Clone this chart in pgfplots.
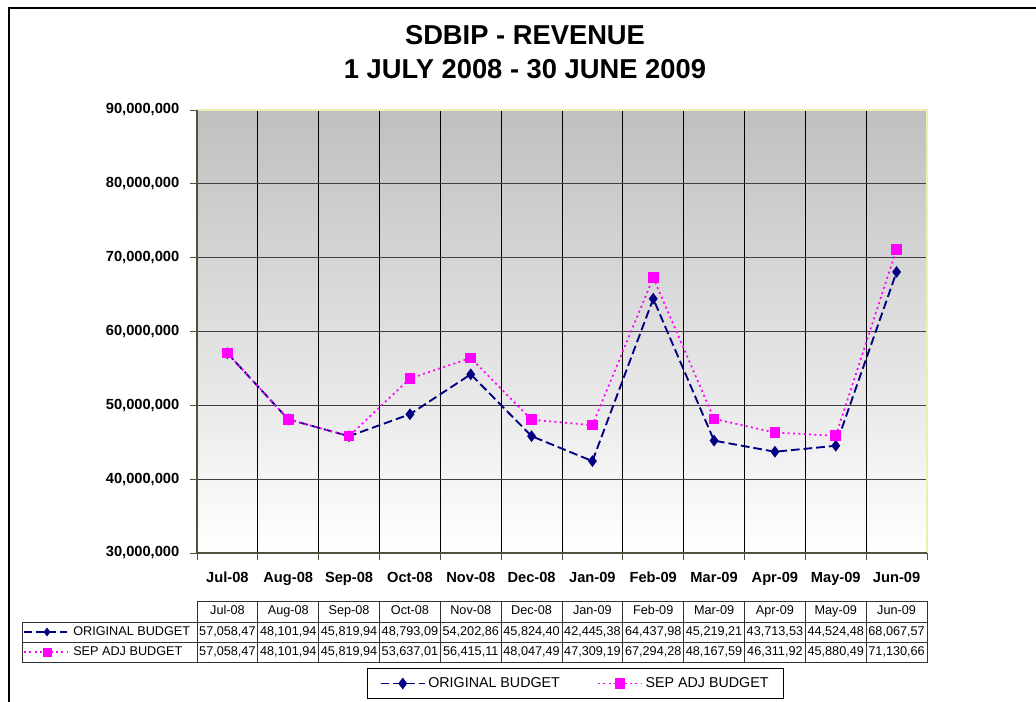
\documentclass[border=0pt]{standalone}
\usepackage{pgfplots}
\pgfplotsset{compat=1.18}
\usepackage{fontspec}
\setmainfont{Liberation Sans}
\definecolor{navyc}{HTML}{000080}
\definecolor{magc}{HTML}{FF00FF}
\definecolor{gridc}{HTML}{404040}
\definecolor{edgec}{HTML}{EEEEB0}
\definecolor{axc}{HTML}{50503C}
\begin{document}
\begin{tikzpicture}
\begin{scope}[x=0.75pt,y=-0.75pt]
\useasboundingbox (0,0) rectangle (1036,702);
\draw[line width=1.1pt] (9,702) -- (9,8) -- (1036,8);
\node[anchor=base, font=\bfseries\fontsize{20.5}{24}\selectfont] at (525,45) {SDBIP - REVENUE};
\node[anchor=base, font=\bfseries\fontsize{20.5}{24}\selectfont] at (525,79) {1 JULY 2008 - 30 JUNE 2009};
\end{scope}

\begin{axis}[
  at={(147.75pt,-414.75pt)}, anchor=south west,
  width=547.5pt, height=332.25pt, scale only axis,
  xmin=-0.5, xmax=11.5, ymin=30000000, ymax=90000000,
  xtick={0,...,11},
  xticklabels={Jul-08,Aug-08,Sep-08,Oct-08,Nov-08,Dec-08,Jan-09,Feb-09,Mar-09,Apr-09,May-09,Jun-09},
  minor xtick={-0.5,0.5,...,11.5},
  major x tick style={draw=none},
  ytick={30000000,40000000,50000000,60000000,70000000,80000000,90000000},
  yticklabels={{30,000,000},{40,000,000},{50,000,000},{60,000,000},{70,000,000},{80,000,000},{90,000,000}},
  scaled y ticks=false,
  xtick pos=left, ytick pos=left,
  tick align=outside,
  major tick length=5.25pt, minor tick length=5.25pt,
  tick style={axc, line width=0.75pt},
  ymajorgrids, xminorgrids,
  major grid style={gridc, line width=0.75pt},
  minor grid style={black, line width=0.75pt},
  axis line style={draw=none},
  axis background/.style={top color=black!25, bottom color=white},
  ticklabel style={font=\bfseries\fontsize{11}{13}\selectfont},
  xticklabel style={text height=8pt, text depth=2.5pt, yshift=-5.25pt},
  yticklabel style={xshift=-4.5pt},
  legend style={at={(0.5185,-0.2946)}, anchor=center, draw=black, line width=0.6pt,
    font=\fontsize{10.7}{13}\selectfont, legend columns=2,
    /tikz/every even column/.append style={column sep=26pt},
    inner xsep=9pt, inner ysep=5pt},
  legend image code/.code={\draw[mark repeat=2,mark phase=2,#1] plot coordinates {(0pt,0pt) (16.5pt,0pt) (33pt,0pt)};},
  clip=false,
]
\draw[edgec, line width=1pt] (rel axis cs:0,1) -- (rel axis cs:1,1) -- (rel axis cs:1,0);
\draw[axc, line width=1pt] (rel axis cs:0,1) -- (rel axis cs:0,0) -- (rel axis cs:1,0);
\addplot[navyc, line width=1.4pt, dash pattern=on 6.5pt off 3pt, mark=diamond*, mark size=3.3pt, mark options={solid, fill=navyc, draw=navyc}]
  coordinates {(0,57058470) (1,48101940) (2,45819940) (3,48793090) (4,54202860) (5,45824400) (6,42445380) (7,64437980) (8,45219210) (9,43713530) (10,44524480) (11,68067570)};
\addlegendentry{ORIGINAL BUDGET}
\addplot[magc, line width=1.3pt, dash pattern=on 1.5pt off 2.5pt, mark=square*, mark size=3.3pt, mark options={solid, fill=magc, draw=magc}]
  coordinates {(0,57058470) (1,48101940) (2,45819940) (3,53637010) (4,56415110) (5,48047490) (6,47309190) (7,67294280) (8,48167590) (9,46311920) (10,45880490) (11,71130660)};
\addlegendentry{SEP ADJ BUDGET}
\end{axis}

\begin{scope}[x=0.75pt,y=-0.75pt, tab/.style={font=\fontsize{9.5}{11}\selectfont, inner sep=0pt, text height=7pt, text depth=2pt}]
% data table
\def\cw{60.8333}
\draw[black!80, line width=0.75pt] (197,601) rectangle (927,622);
\draw[black!80, line width=0.75pt] (22,622) rectangle (927,662);
\draw[black!80, line width=0.75pt] (22,642) -- (927,642);
\foreach \i in {0,...,12} {\draw[black!80, line width=0.75pt] (197+\i*\cw,601) -- (197+\i*\cw,662);}
\foreach \lab [count=\i from 0] in {Jul-08,Aug-08,Sep-08,Oct-08,Nov-08,Dec-08,Jan-09,Feb-09,Mar-09,Apr-09,May-09,Jun-09}
  {\node[tab] at (197+\i*\cw+0.5*\cw,611.5) {\lab};}
\foreach \lab [count=\i from 0] in {{57,058,47},{48,101,94},{45,819,94},{48,793,09},{54,202,86},{45,824,40},{42,445,38},{64,437,98},{45,219,21},{43,713,53},{44,524,48},{68,067,57}}
  {\node[tab] at (197+\i*\cw+0.5*\cw,632) {\lab};}
\foreach \lab [count=\i from 0] in {{57,058,47},{48,101,94},{45,819,94},{53,637,01},{56,415,11},{48,047,49},{47,309,19},{67,294,28},{48,167,59},{46,311,92},{45,880,49},{71,130,66}}
  {\node[tab] at (197+\i*\cw+0.5*\cw,652) {\lab};}
\draw[navyc, line width=1.4pt, dash pattern=on 6pt off 3pt] (24,632) -- (67,632);
\fill[navyc] (47,627.5) -- (50.3,632) -- (47,636.5) -- (43.7,632) -- cycle;
\draw[magc, line width=1.3pt, dash pattern=on 1.5pt off 2.5pt] (24,652) -- (68,652);
\fill[magc] (42.5,647.5) rectangle (51.5,656.5);
\node[tab, anchor=west] at (73,632) {ORIGINAL BUDGET};
\node[tab, anchor=west] at (73,652) {SEP ADJ BUDGET};
\end{scope}
\end{tikzpicture}
\end{document}
